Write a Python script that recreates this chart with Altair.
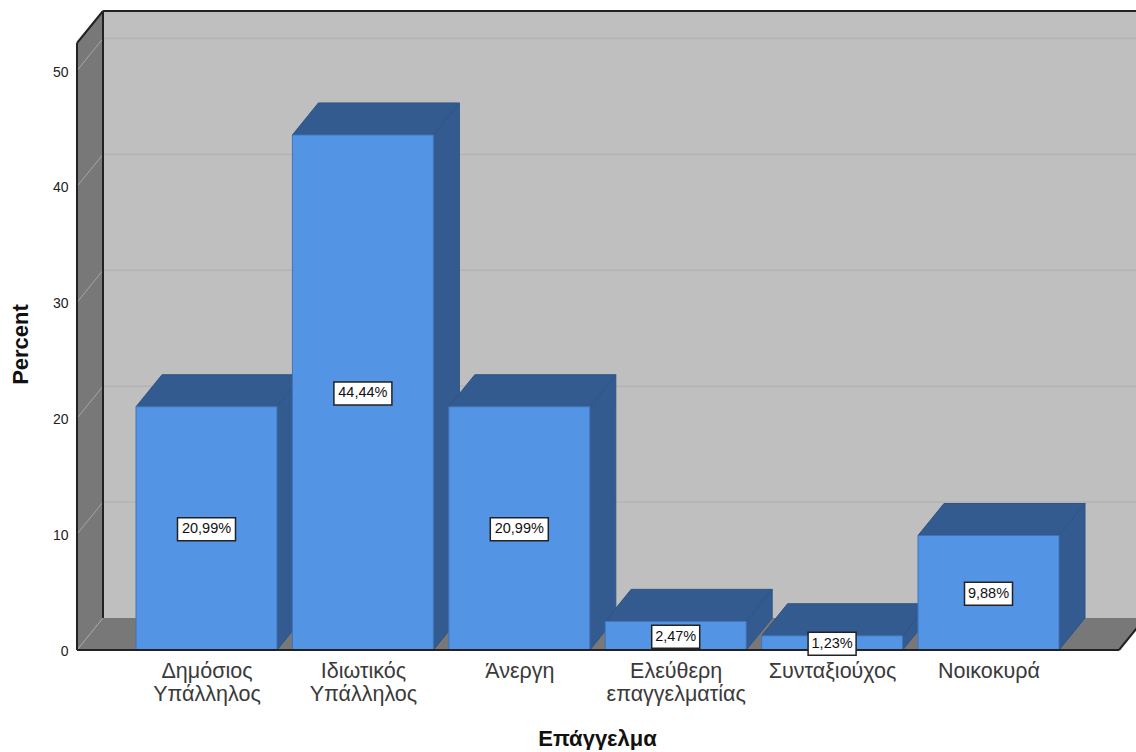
import json
import altair as alt
import pandas as pd

# Survey shares by occupation
occupations = ["Δημόσιος\nΥπάλληλος", "Ιδιωτικός\nΥπάλληλος", "Άνεργη",
               "Ελεύθερη\nεπαγγελματίας", "Συνταξιούχος", "Νοικοκυρά"]
percents = [20.99, 44.44, 20.99, 2.47, 1.23, 9.88]
y_ticks = [0, 10, 20, 30, 40, 50]

# Pixel size of one data unit and of the 3D box
PX_X, PX_Y = 156.4, 11.59
W, H = 1059, 648
X0 = -129.5 / PX_X
X1 = X0 + W / PX_X
Y1 = H / PX_Y
HALF = 70.5 / PX_X
DX, DY = 26 / PX_X, 32 / PX_Y
BOX_RIGHT = X0 + 1042 / PX_X
BOX_TOP = 607 / PX_Y

FACE, SHADE, EDGE = "#5394E4", "#335B8F", "#2F5486"
WALL, SIDE = "#BFBFBF", "#787878"

x_scale = alt.Scale(domain=[X0, X1], nice=False, zero=False)
y_scale = alt.Scale(domain=[0, Y1], nice=False, zero=False)

label_expr = "split(" + json.dumps(occupations, ensure_ascii=False) + "[datum.value], '\\n')"
x_axis = alt.Axis(
    title="Επάγγελμα",
    values=list(range(len(occupations))), labelExpr=label_expr, grid=False, domain=False, ticks=False,
    labelFont="Liberation Sans", labelFontSize=21.5, labelColor="#3A3A3A", labelPadding=10.5,
    labelLineHeight=23, labelOverlap=False, labelBaseline="top", labelFlush=False,
    titleFont="Liberation Sans", titleFontSize=22, titleFontWeight="bold", titleColor="#111111",
    titleX=520, titleY=88, titleAlign="center", titleBaseline="middle")
y_axis = alt.Axis(
    title="Percent",
    values=y_ticks, grid=False, domain=False, ticks=False,
    labelFont="Liberation Sans", labelFontSize=14, labelColor="#222222", labelPadding=9, labelOffset=1.5,
    titleFont="Liberation Sans", titleFontSize=22, titleFontWeight="bold", titleColor="#111111",
    titleX=-57, titleY=342, titleAngle=270, titleAlign="center", titleBaseline="middle")

X = lambda f: alt.X(f, type="quantitative", scale=x_scale, axis=x_axis)
Y = lambda f: alt.Y(f, type="quantitative", scale=y_scale, axis=y_axis)

# --- room: back wall, left wall, floor ---
back = alt.Chart(pd.DataFrame([dict(a=X0 + DX, b=BOX_RIGHT + DX, c=DY, d=BOX_TOP + DY)])).mark_rect(
    color=WALL, clip=True).encode(X("a"), x2="b", y=Y("c"), y2="d")

left_wall = alt.Chart(pd.DataFrame([dict(x=X0, lo=0, hi=BOX_TOP), dict(x=X0 + DX, lo=DY, hi=BOX_TOP + DY)])).mark_area(
    color=SIDE, opacity=1).encode(X("x"), y=Y("lo"), y2="hi")

floor = alt.Chart(pd.DataFrame([dict(y=0, a=X0, b=BOX_RIGHT), dict(y=DY, a=X0 + DX, b=BOX_RIGHT + DX)])).mark_area(
    color=SIDE, opacity=1, orient="horizontal", clip=True).encode(y=Y("y"), x=X("a"), x2="b")

grid_df = pd.DataFrame({"v": y_ticks})
grid_df["back"] = grid_df.v + DY
grid_df["a"], grid_df["b"], grid_df["c"] = X0, X0 + DX, BOX_RIGHT + DX

back_grid = alt.Chart(grid_df[grid_df.v > 0]).mark_rule(color="#B3B3B3", strokeWidth=1.5, clip=True).encode(
    X("b"), x2="c", y=Y("back"))
side_grid = alt.Chart(grid_df).mark_rule(color="#A6A6A6", strokeWidth=1).encode(
    X("a"), x2="b", y=Y("v"), y2="back")

# --- bars ---
df = pd.DataFrame({"i": range(len(percents)), "v": percents})
df["left"] = df.i - HALF
df["right"] = df.i + HALF
df["zero"] = 0
df["text"] = [f"{p:.2f}%".replace(".", ",") for p in percents]

side_rows, top_rows = [], []
for i, v in enumerate(percents):
    side_rows += [dict(i=i, x=i + HALF, lo=0, hi=v), dict(i=i, x=i + HALF + DX, lo=DY, hi=v + DY)]
    top_rows += [dict(i=i, y=v, a=i - HALF, b=i + HALF), dict(i=i, y=v + DY, a=i - HALF + DX, b=i + HALF + DX)]

sides = alt.Chart(pd.DataFrame(side_rows)).mark_area(
    color=SHADE, opacity=1, stroke=EDGE, strokeWidth=1).encode(X("x"), y=Y("lo"), y2="hi", detail="i:N")
tops = alt.Chart(pd.DataFrame(top_rows)).mark_area(
    color=SHADE, opacity=1, stroke=EDGE, strokeWidth=1, orient="horizontal").encode(
    y=Y("y"), x=X("a"), x2="b", detail="i:N")
fronts = alt.Chart(df).mark_rect(color=FACE, stroke="#3F74B8", strokeWidth=1).encode(
    X("left"), x2="right", y=Y("v"), y2="zero")

# --- room edges ---
edge_rows = [
    dict(a=X0, b=X0, c=0, d=BOX_TOP),
    dict(a=X0 + DX, b=X0 + DX, c=DY, d=BOX_TOP + DY),
    dict(a=X0, b=X0 + DX, c=BOX_TOP, d=BOX_TOP + DY),
    dict(a=X0 + DX, b=BOX_RIGHT + DX, c=BOX_TOP + DY, d=BOX_TOP + DY),
    dict(a=X0, b=BOX_RIGHT, c=0, d=0),
    dict(a=BOX_RIGHT, b=BOX_RIGHT + DX, c=0, d=DY),
]
edges = alt.Chart(pd.DataFrame(edge_rows)).mark_rule(color="#222222", strokeWidth=2, clip=False).encode(
    X("a"), x2="b", y=Y("c"), y2="d")

# --- value labels in white boxes ---
df["mid"] = df.v / 2 - 1 / PX_Y
df["half_w"] = [(24 if p < 10 else 29) / PX_X for p in percents]
df["bx0"] = df.i - df.half_w
df["bx1"] = df.i + df.half_w
df["by0"] = df.mid - 11.5 / PX_Y
df["by1"] = df.mid + 11.5 / PX_Y
boxes = alt.Chart(df).mark_rect(color="white", stroke="#222222", strokeWidth=1.5).encode(
    X("bx0"), x2="bx1", y=Y("by0"), y2="by1")
texts = alt.Chart(df).mark_text(font="Liberation Sans", fontSize=14.5, color="#111111", baseline="middle").encode(
    X("i"), y=Y("mid"), text="text:N")

chart = alt.layer(
    back, left_wall, floor, back_grid, side_grid, sides, tops, fronts, edges, boxes, texts
).properties(
    width=W, height=H,
    padding={"left": 77, "top": 2, "right": 0, "bottom": 100},
    autosize=alt.AutoSizeParams(type="none"),
    background="white",
).configure_view(stroke=None)

chart.save("out.html", embed_options={"renderer": "svg", "actions": False})
